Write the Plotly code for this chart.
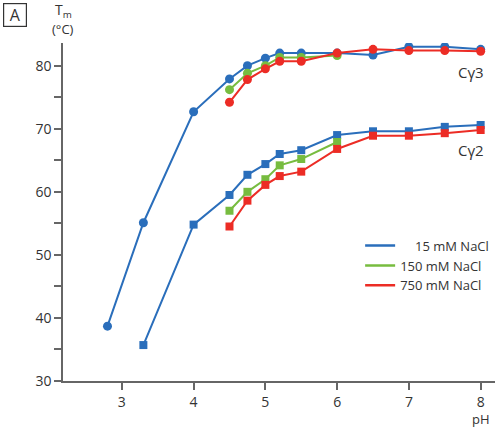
import plotly.graph_objects as go

# Cγ3 (circles)
ph_c3_blue = [2.8, 3.3, 4.0, 4.5, 4.75, 5.0, 5.2, 5.5, 6.0, 6.5, 7.0, 7.5, 8.0]
tm_c3_blue = [38.7, 55.1, 72.7, 77.9, 80.0, 81.2, 82.0, 82.0, 82.0, 81.7, 83.0, 83.0, 82.6]
ph_c3_green = [4.5, 4.75, 5.0, 5.2, 5.5, 6.0]
tm_c3_green = [76.2, 78.8, 80.0, 81.3, 81.3, 81.6]
ph_c3_red = [4.5, 4.75, 5.0, 5.2, 5.5, 6.0, 6.5, 7.0, 7.5, 8.0]
tm_c3_red = [74.2, 77.8, 79.5, 80.7, 80.7, 82.0, 82.6, 82.4, 82.4, 82.3]

# Cγ2 (squares)
ph_c2_blue = [3.3, 4.0, 4.5, 4.75, 5.0, 5.2, 5.5, 6.0, 6.5, 7.0, 7.5, 8.0]
tm_c2_blue = [35.7, 54.8, 59.5, 62.7, 64.4, 66.0, 66.6, 69.0, 69.6, 69.6, 70.3, 70.6]
ph_c2_green = [4.5, 4.75, 5.0, 5.2, 5.5, 6.0]
tm_c2_green = [57.0, 60.0, 62.0, 64.2, 65.2, 67.9]
ph_c2_red = [4.5, 4.75, 5.0, 5.2, 5.5, 6.0, 6.5, 7.0, 7.5, 8.0]
tm_c2_red = [54.5, 58.6, 61.1, 62.5, 63.2, 66.8, 68.9, 68.9, 69.3, 69.8]

legend_labels = ["\u2007\u200715 mM NaCl", "150 mM NaCl", "750 mM NaCl"]
x_ticks = [3, 4, 5, 6, 7, 8]
y_ticks = [30, 40, 50, 60, 70, 80]

BLUE = "#2a6ebb"
GREEN = "#77bc3f"
RED = "#ec2c25"
TXT = "#333333"
FONT = "Open Sans"

fig = go.Figure()

series = [
    (ph_c3_blue, tm_c3_blue, BLUE, "circle", 9),
    (ph_c2_blue, tm_c2_blue, BLUE, "square", 8),
    (ph_c3_green, tm_c3_green, GREEN, "circle", 9),
    (ph_c2_green, tm_c2_green, GREEN, "square", 8),
    (ph_c3_red, tm_c3_red, RED, "circle", 9),
    (ph_c2_red, tm_c2_red, RED, "square", 8),
]
for xs, ys, col, sym, sz in series:
    fig.add_trace(go.Scatter(
        x=xs, y=ys, mode="lines+markers",
        line=dict(color=col, width=2),
        marker=dict(color=col, symbol=sym, size=sz),
        showlegend=False, hoverinfo="skip",
    ))

for lab, col in zip(legend_labels, [BLUE, GREEN, RED]):
    fig.add_trace(go.Scatter(
        x=[None], y=[None], mode="lines",
        line=dict(color=col, width=2.5),
        name=lab, showlegend=True,
    ))

fig.update_layout(
    width=500, height=430,
    margin=dict(l=63, r=5, t=43, b=49),
    paper_bgcolor="white", plot_bgcolor="white",
    font=dict(family=FONT, color=TXT, size=14),
    legend=dict(
        x=0.998, xanchor="right", y=0.445, yanchor="top",
        bgcolor="rgba(0,0,0,0)", font=dict(size=13, color=TXT),
        tracegroupgap=0, itemwidth=30,
    ),
    xaxis=dict(
        range=[2.18, 8.2], tickvals=x_ticks, ticktext=[str(v) for v in x_ticks],
        showgrid=False, zeroline=False,
        showline=True, linecolor="#666666", linewidth=1.5,
        ticks="outside", ticklen=7, tickcolor="#666666", tickwidth=1.5,
        tickfont=dict(size=14, color=TXT),
    ),
    yaxis=dict(
        range=[30, 83.6], tickvals=y_ticks, ticktext=[str(v) for v in y_ticks],
        showgrid=False, zeroline=False,
        showline=True, linecolor="#666666", linewidth=1.5,
        ticks="outside", ticklen=7, tickcolor="#666666", tickwidth=1.5,
        tickfont=dict(size=14, color=TXT),
        minor=dict(dtick=5, tick0=0, ticks="outside", ticklen=7,
                   tickcolor="#666666", tickwidth=1.5, showgrid=False),
    ),
)

fig.add_annotation(
    text="A", xref="paper", yref="paper",
    x=-(63 - 14.5) / 432, y=1 + (43 - 15) / 338,
    xanchor="center", yanchor="middle", showarrow=False,
    font=dict(size=16, color=TXT),
    bordercolor="#333333", borderwidth=1.2, borderpad=2,
    width=18, height=18,
)
fig.add_annotation(
    text="T<sub>m</sub>", xref="paper", yref="paper",
    x=0, y=1 + (43 - 10) / 338,
    xanchor="center", yanchor="middle", showarrow=False,
    font=dict(size=14, color=TXT),
)
fig.add_annotation(
    text="(°C)", xref="paper", yref="paper",
    x=0, y=1 + (43 - 29) / 338,
    xanchor="center", yanchor="middle", showarrow=False,
    font=dict(size=13, color=TXT),
)
fig.add_annotation(
    text="pH", xref="x", yref="paper", x=8, y=-(419 - 381) / 338,
    xanchor="center", yanchor="middle", showarrow=False,
    font=dict(size=13, color=TXT),
)
fig.add_annotation(
    text="Cγ3", xref="x", yref="y", x=7.87, y=79.0,
    xanchor="center", yanchor="middle", showarrow=False,
    font=dict(size=15, color=TXT),
)
fig.add_annotation(
    text="Cγ2", xref="x", yref="y", x=7.87, y=66.7,
    xanchor="center", yanchor="middle", showarrow=False,
    font=dict(size=15, color=TXT),
)

fig.write_html("out.html", config={"displayModeBar": False},
               post_script="document.body.style.margin='0';")
